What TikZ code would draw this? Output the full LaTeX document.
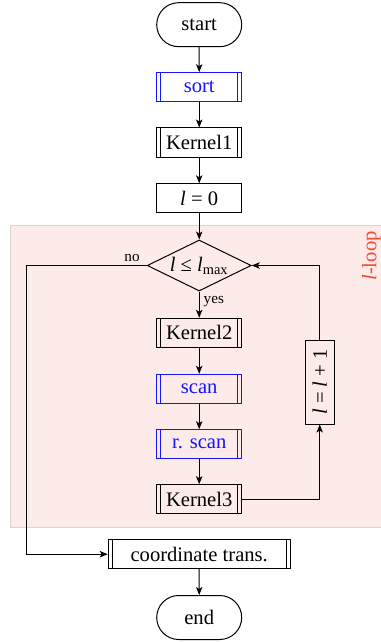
\documentclass[tikz,border=0pt]{standalone}
\usepackage{fontspec}
\setmainfont{Liberation Serif}
\usepackage{graphicx}
\usetikzlibrary{shapes.geometric,shapes.misc,arrows.meta}
\definecolor{loopfill}{RGB}{252,235,233}
\definecolor{loopdraw}{RGB}{212,212,212}
\definecolor{looptext}{RGB}{238,75,50}
\definecolor{kblue}{RGB}{20,20,255}
\newcommand\lvar{\textit{l}}
\begin{document}
\begin{tikzpicture}[x=0.5pt,y=-0.5pt,
  font=\fontsize{10.3}{12}\selectfont,
  line width=0.5pt,
  arr/.style={-{Stealth[length=4pt,width=3.2pt,inset=1pt]}},
  termbox/.style={draw, rounded rectangle, minimum width=42.5pt, minimum height=22pt, inner sep=0pt},
  plainbox/.style={draw, rectangle, minimum width=42.5pt, minimum height=14.5pt, inner sep=0pt},
  procbox/.style={draw=#1, text=#1, rectangle, minimum width=42.5pt, minimum height=14.5pt, inner sep=0pt,
    path picture={\draw[#1, line width=0.5pt]
      ([xshift=2pt]path picture bounding box.north west) -- ([xshift=2pt]path picture bounding box.south west)
      ([xshift=-2pt]path picture bounding box.north east) -- ([xshift=-2pt]path picture bounding box.south east);}},
  procbox/.default=black,
  decbox/.style={draw, diamond, aspect=2, inner sep=0pt, minimum width=52pt, minimum height=25.5pt},
  smalllab/.style={font=\fontsize{7.6}{9}\selectfont}
]
\useasboundingbox (0,0) rectangle (380,642);
% loop background
\path[fill=loopfill, draw=loopdraw] (10.5,225) rectangle (384,527);
\node[rotate=90, text=looptext] (looplab) at (371.5,256) {\lvar-loop};

\node[termbox] (start) at (199.2,24.7) {start};
\node[procbox=kblue] (sort) at (199.2,87.2) {sort};
\node[procbox] (k1) at (199.2,142.5) {Kernel1};
\node[plainbox] (l0) at (199.2,198.3) {\lvar\ = 0};
\node[decbox] (dia) at (199.2,265.5) {\lvar\ ≤ \lvar\textsubscript{max}};
\node[procbox] (k2) at (199.2,332.8) {Kernel2};
\node[procbox=kblue] (scan) at (199.2,388.8) {scan};
\node[procbox=kblue] (rscan) at (199.2,444.2) {r. scan};
\node[procbox] (k3) at (199.2,499.2) {Kernel3};
\node[procbox, minimum width=91pt] (ct) at (199.2,554.2) {coordinate trans.};
\node[termbox] (end) at (199.2,617.5) {end};
\node[draw, rectangle, minimum width=14.5pt, minimum height=42pt, inner sep=0pt] (inc) at (319.7,382) {\rotatebox{90}{\lvar\ = \lvar\ + 1}};
\coordinate (nox) at (26.7,265.5);
\node[smalllab] (nolab) at (132,257.5) {no};

\draw[arr] (start) -- (sort);
\draw[arr] (sort) -- (k1);
\draw[arr] (k1) -- (l0);
\draw[arr] (l0) -- (dia);
\draw[arr] (dia.south) -- node[pos=0.4, right, inner sep=2pt, smalllab] (yeslab) {yes} (k2);
\draw[arr] (k2) -- (scan);
\draw[arr] (scan) -- (rscan);
\draw[arr] (rscan) -- (k3);
\draw[arr] (k3.east) -| (inc.south);
\draw[arr] (inc.north) |- (dia.east);
\draw[arr] (dia.west) -- (nox) |- (ct.west);
\draw[arr] (ct) -- (end);
\end{tikzpicture}
\end{document}
